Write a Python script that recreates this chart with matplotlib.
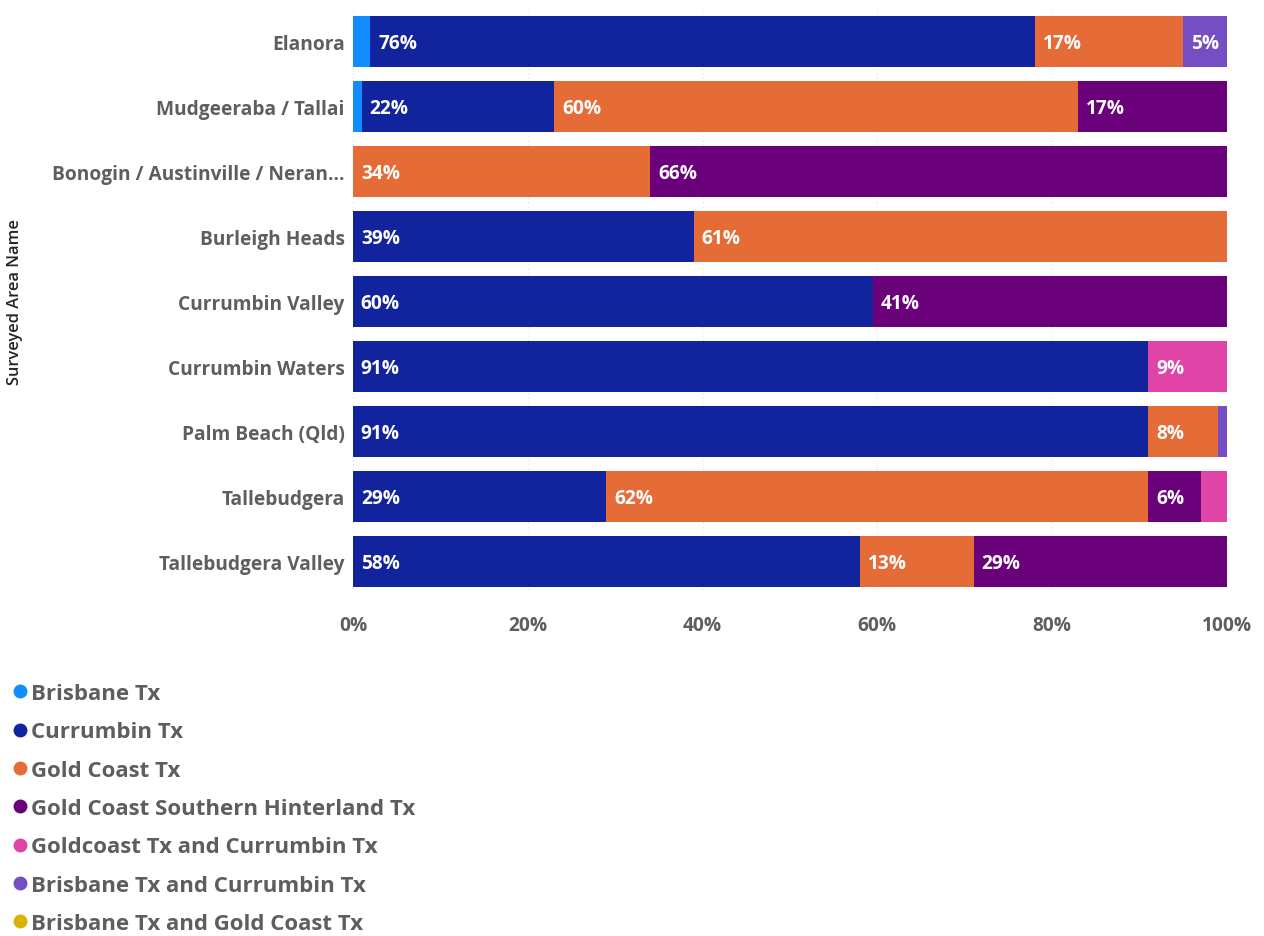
import matplotlib
matplotlib.use("Agg")
import matplotlib.pyplot as plt
from matplotlib.ticker import PercentFormatter
import numpy as np

areas = ["Elanora", "Mudgeeraba / Tallai", "Bonogin / Austinville / Neran\u2026",
         "Burleigh Heads", "Currumbin Valley", "Currumbin Waters",
         "Palm Beach (Qld)", "Tallebudgera", "Tallebudgera Valley"]
series = ["Brisbane Tx", "Currumbin Tx", "Gold Coast Tx",
          "Gold Coast Southern Hinterland Tx", "Goldcoast Tx and Currumbin Tx",
          "Brisbane Tx and Currumbin Tx", "Brisbane Tx and Gold Coast Tx"]
colors = ["#118DFF", "#12239E", "#E66C37", "#6B007B", "#E044A7", "#744EC2", "#D9B300"]

brisbane = [2, 1, 0, 0, 0, 0, 0, 0, 0]
currumbin = [76, 22, 0, 39, 59.5, 91, 91, 29, 58]
gold_coast = [17, 60, 34, 61, 0, 0, 8, 62, 13]
hinterland = [0, 17, 66, 0, 40.5, 0, 0, 6, 29]
gc_and_curr = [0, 0, 0, 0, 0, 9, 0, 3, 0]
bris_and_curr = [5, 0, 0, 0, 0, 0, 1, 0, 0]
bris_and_gc = [0, 0, 0, 0, 0, 0, 0, 0, 0]
values = [brisbane, currumbin, gold_coast, hinterland, gc_and_curr, bris_and_curr, bris_and_gc]

ticks = [0, 20, 40, 60, 80, 100]

plt.rcParams['font.family'] = ['Open Sans', 'DejaVu Sans']
fig = plt.figure(figsize=(12.64, 9.37), dpi=100)
ax = fig.add_axes([353/1264, 1 - 595/937, 874/1264, 585/937])

y = np.arange(len(areas))
left = np.zeros(len(areas))
for name, vals, c in zip(series, values, colors):
    vals = np.array(vals, dtype=float)
    ax.barh(y, vals, left=left, height=0.78, color=c, label=name)
    for yi, (l, v) in enumerate(zip(left, vals)):
        if v >= 4:
            ax.text(l + 0.9, yi + 0.03, f"{int(v + 0.5)}%", color="white", fontweight="bold",
                    fontsize=13.8, va="center", ha="left")
    left += vals

ax.set_xlim(0, 100)
ax.set_ylim(len(areas) - 0.5, -0.5)
ax.set_yticks(y)
ax.set_yticklabels(areas, fontsize=13.8, fontweight="bold", color="#605E5C")
ax.set_xticks(ticks)
ax.xaxis.set_major_formatter(PercentFormatter(decimals=0))
for lab in ax.get_xticklabels():
    lab.set_fontsize(13.8)
    lab.set_fontweight("bold")
    lab.set_color("#605E5C")
ax.tick_params(axis="both", length=0)
ax.tick_params(axis="x", pad=15)
ax.tick_params(axis="y", pad=6)
for s in ax.spines.values():
    s.set_visible(False)
ax.set_axisbelow(True)
ax.grid(axis="x", color="#E0E0E0", linestyle=(0, (1, 3)), linewidth=0.8)

fig.text(15/1264, 1 - 302/937, "Surveyed Area Name", rotation=90, fontsize=11.8,
         fontweight="semibold", color="#252423", va="center", ha="center")

handles = [plt.Line2D([0], [0], marker="o", linestyle="", markersize=9,
                      markerfacecolor=c, markeredgecolor=c) for c in colors]
leg = fig.legend(handles, series, loc="upper left", bbox_to_anchor=(-13/1264, 1 - 664/937),
                 frameon=False, handletextpad=-0.1, labelspacing=0.78,
                 prop={"size": 16, "weight": "bold"}, handlelength=1.2)
for t in leg.get_texts():
    t.set_color("#605E5C")

fig.savefig("out.png", dpi=100)
